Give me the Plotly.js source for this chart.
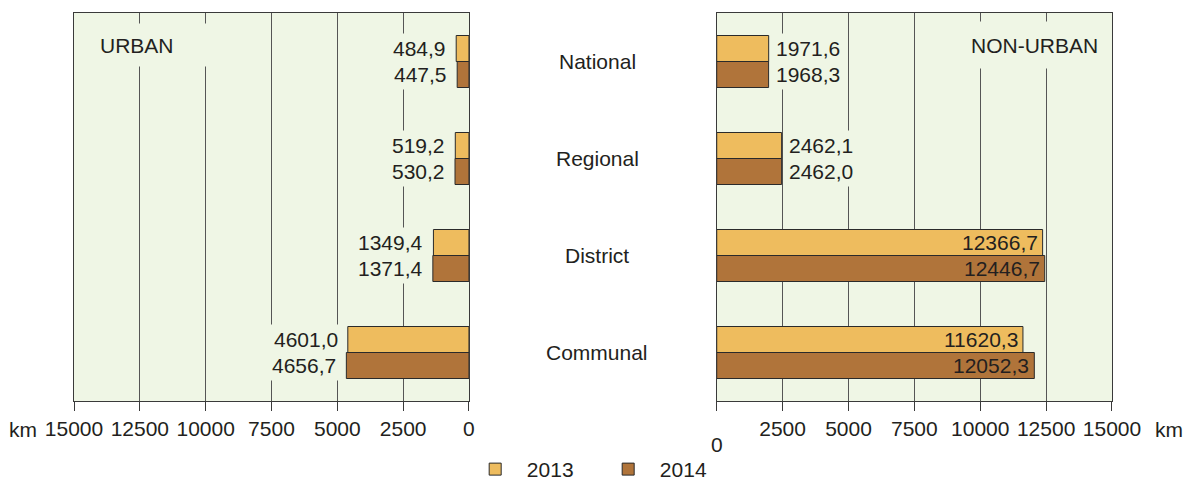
<!DOCTYPE html>
<html><head><meta charset="utf-8">
<script src="https://cdn.plot.ly/plotly-3.0.1.min.js"></script>
<style>html,body{margin:0;padding:0;background:#fff}</style>
</head><body><div id="chart" style="width:1187px;height:482px"></div>
<script>
const categories = ['National', 'Regional', 'District', 'Communal'];
const years = ['2013', '2014'];
const urban2013 = [484.9, 519.2, 1349.4, 4601.0];
const urban2014 = [447.5, 530.2, 1371.4, 4656.7];
const nonUrban2013 = [1971.6, 2462.1, 12366.7, 11620.3];
const nonUrban2014 = [1968.3, 2462.0, 12446.7, 12052.3];
const tickVals = [0, 2500, 5000, 7500, 10000, 12500, 15000];
const panelTitles = ['URBAN', 'NON-URBAN'];
const unit = 'km';

const FONT = 'Liberation Sans, Arial, sans-serif';
const TXT = '#231f20';
const FS = 21;
const PLOTBG = '#eff6e5';
const colors = ['#eebc5e', '#b0743a'];
const fmt = v => v.toFixed(1).replace('.', ',');

const urban = [urban2013, urban2014];
const nonUrban = [nonUrban2013, nonUrban2014];

const traces = [];
years.forEach((yr, i) => {
  traces.push({type: 'bar', orientation: 'h', name: '\u00a0\u00a0' + yr, legendgroup: yr,
    x: urban[i], y: categories, xaxis: 'x', yaxis: 'y',
    marker: {color: colors[i], line: {color: '#2a2a2a', width: 1}}, hoverinfo: 'x'});
});
years.forEach((yr, i) => {
  traces.push({type: 'bar', orientation: 'h', name: yr, legendgroup: yr, showlegend: false,
    x: nonUrban[i], y: categories, xaxis: 'x2', yaxis: 'y2',
    marker: {color: colors[i], line: {color: '#2a2a2a', width: 1}}, hoverinfo: 'x'});
});

const annotations = [];
const shiftFor = [13, -13];
// urban value labels (left, outside)
urban.forEach((arr, i) => arr.forEach((v, j) => {
  annotations.push({xref: 'x', yref: 'y', x: v, y: categories[j], text: fmt(v),
    xanchor: 'right', yanchor: 'middle', xshift: -6, yshift: shiftFor[i], showarrow: false,
    bgcolor: PLOTBG, borderpad: 3, font: {family: FONT, size: FS, color: TXT}});
}));
// non-urban value labels
nonUrban.forEach((arr, i) => arr.forEach((v, j) => {
  const inside = v > 5000;
  annotations.push({xref: 'x2', yref: 'y2', x: v, y: categories[j], text: fmt(v),
    xanchor: inside ? 'right' : 'left', yanchor: 'middle',
    xshift: inside ? -1 : 3, yshift: shiftFor[i], showarrow: false,
    bgcolor: inside ? 'rgba(0,0,0,0)' : PLOTBG, borderpad: 3,
    font: {family: FONT, size: FS, color: TXT}});
}));
// category labels in the middle
categories.forEach(c => annotations.push({xref: 'paper', yref: 'y', x: 0.5039, y: c, text: c,
  showarrow: false, xanchor: 'center', yanchor: 'middle', font: {family: FONT, size: FS, color: TXT}}));
// panel titles
annotations.push({xref: 'x domain', yref: 'y domain', x: 0.058, y: 0.917, text: panelTitles[0],
  xanchor: 'left', yanchor: 'middle', showarrow: false, bgcolor: PLOTBG, width: 125, height: 38, align: 'left',
  borderpad: 2, font: {family: FONT, size: FS, color: TXT}});
annotations.push({xref: 'x2 domain', yref: 'y2 domain', x: 0.977, y: 0.917, text: panelTitles[1],
  xanchor: 'right', yanchor: 'middle', showarrow: false, bgcolor: PLOTBG, height: 38,
  borderpad: 4, font: {family: FONT, size: FS, color: TXT}});
// unit labels and the lowered 0 of right axis
annotations.push({xref: 'x', yref: 'paper', x: tickVals[tickVals.length - 1], y: -0.074, text: unit,
  xanchor: 'right', yanchor: 'middle', xshift: -35, showarrow: false, font: {family: FONT, size: FS, color: TXT}});
annotations.push({xref: 'x2', yref: 'paper', x: tickVals[tickVals.length - 1], y: -0.074, text: unit,
  xanchor: 'left', yanchor: 'middle', xshift: 41, showarrow: false, font: {family: FONT, size: FS, color: TXT}});
annotations.push({xref: 'x2', yref: 'paper', x: tickVals[0], y: -0.113, text: String(tickVals[0]),
  xanchor: 'center', yanchor: 'middle', showarrow: false, font: {family: FONT, size: FS, color: TXT}});

const axBase = {
  showline: true, mirror: true, linecolor: '#3a3a3a', linewidth: 1,
  showgrid: true, gridcolor: '#555555', gridwidth: 1, zeroline: false,
  ticks: 'outside', ticklen: 9, tickcolor: '#3a3a3a', tickwidth: 1,
  tickvals: tickVals, tickfont: {family: FONT, size: FS, color: TXT}, fixedrange: true
};
const yBase = {type: 'category', autorange: 'reversed', showline: true, mirror: true,
  linecolor: '#3a3a3a', linewidth: 1, showgrid: false, showticklabels: false, ticks: '', zeroline: false, fixedrange: true};

const layout = {
  width: 1187, height: 482,
  margin: {l: 74, r: 75, t: 13, b: 81},
  paper_bgcolor: '#ffffff', plot_bgcolor: PLOTBG,
  font: {family: FONT, size: FS, color: TXT},
  barmode: 'group', bargap: 0.464, bargroupgap: 0,
  xaxis: Object.assign({}, axBase, {domain: [0, 0.3805], range: [15000, 0],
    ticktext: tickVals.map(String)}),
  xaxis2: Object.assign({}, axBase, {domain: [0.6192, 1], range: [0, 15000], anchor: 'y2',
    ticktext: tickVals.map((v, i) => i === 0 ? '' : String(v))}),
  yaxis: Object.assign({}, yBase, {anchor: 'x'}),
  yaxis2: Object.assign({}, yBase, {anchor: 'x2'}),
  showlegend: true,
  legend: {orientation: 'h', x: 0.3865, xref: 'paper', y: 0.026, yref: 'container', xanchor: 'left', yanchor: 'middle',
    font: {family: FONT, size: FS, color: TXT}, entrywidth: 88, entrywidthmode: 'pixels',
    bgcolor: 'rgba(0,0,0,0)'},
  annotations: annotations
};
Plotly.newPlot('chart', traces, layout, {displayModeBar: false, staticPlot: true});
</script></body></html>
